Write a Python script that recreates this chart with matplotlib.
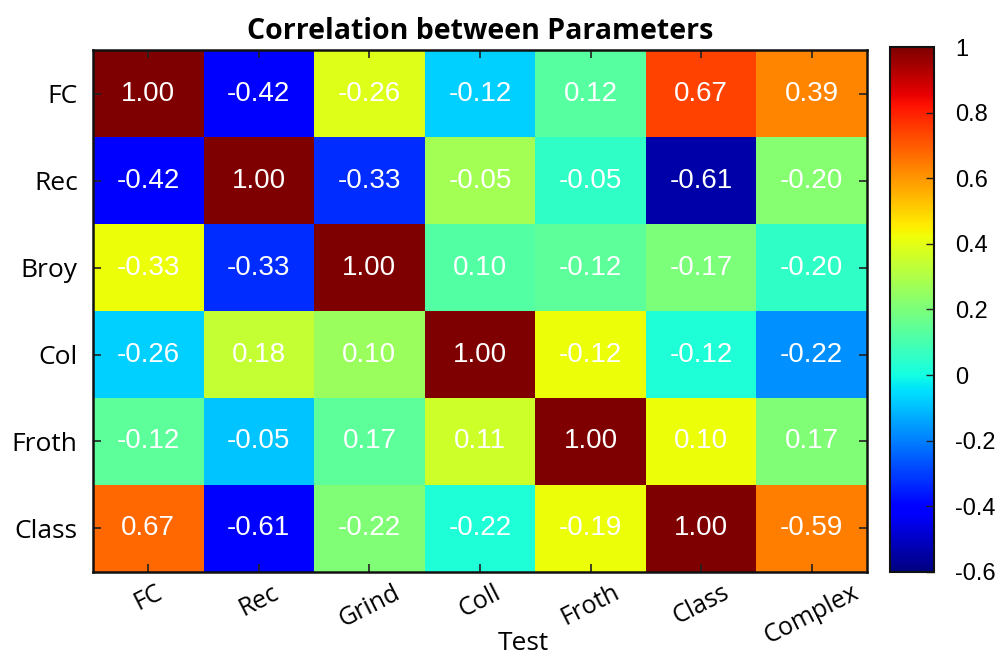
import numpy as np
import matplotlib
matplotlib.use("Agg")
import matplotlib.pyplot as plt
from matplotlib import colors

# Axis categories
row_labels = ["FC", "Rec", "Broy", "Col", "Froth", "Class"]
col_labels = ["FC", "Rec", "Grind", "Coll", "Froth", "Class", "Complex"]

# Values printed in each cell
corr_values = [
    [1.00, -0.42, -0.26, -0.12, 0.12, 0.67, 0.39],
    [-0.42, 1.00, -0.33, -0.05, -0.05, -0.61, -0.20],
    [-0.33, -0.33, 1.00, 0.10, -0.12, -0.17, -0.20],
    [-0.26, 0.18, 0.10, 1.00, -0.12, -0.12, -0.22],
    [-0.12, -0.05, 0.17, 0.11, 1.00, 0.10, 0.17],
    [0.67, -0.61, -0.22, -0.22, -0.19, 1.00, -0.59],
]

# Values used for the cell shading (colour scale)
shade_values = [
    [1.00, -0.42, 0.39, -0.07, 0.13, 0.74, 0.63],
    [-0.42, 1.00, -0.33, 0.28, 0.05, -0.54, 0.22],
    [0.42, -0.33, 1.00, 0.12, 0.14, 0.20, 0.05],
    [-0.07, 0.34, 0.26, 1.00, 0.42, 0.02, -0.17],
    [0.14, -0.09, 0.14, 0.36, 1.00, 0.42, 0.21],
    [0.68, -0.41, 0.21, 0.02, 0.42, 1.00, 0.64],
]

cbar_ticks = [-0.6, -0.4, -0.2, 0, 0.2, 0.4, 0.6, 0.8, 1]
cbar_ticklabels = ["-0.6", "-0.4", "-0.2", "0", "0.2", "0.4", "0.6", "0.8", "1"]

plt.rcParams["font.family"] = ["Liberation Sans", "DejaVu Sans"]
label_font = ["Open Sans", "DejaVu Sans"]

fig = plt.figure(figsize=(10, 6.55), dpi=100)
ax = fig.add_axes([0.093, 0.127, 0.774, 0.796])
cax = fig.add_axes([0.890, 0.127, 0.044, 0.801])

shade = np.array(shade_values)
corr = np.array(corr_values)
norm = colors.Normalize(vmin=-0.6, vmax=1.0)
im = ax.imshow(shade, cmap="jet", norm=norm, aspect="auto",
               interpolation="nearest")

for i in range(corr.shape[0]):
    for j in range(corr.shape[1]):
        ax.text(j, i, f"{corr[i, j]:.2f}", ha="center", va="center",
                color="white", fontsize=20)

ax.set_xticks(range(len(col_labels)))
ax.set_xticklabels(col_labels, rotation=27, ha="center",
                   family=label_font, fontsize=18)
ax.set_yticks(range(len(row_labels)))
ax.set_yticklabels(row_labels, family=label_font, fontsize=19)
ax.tick_params(direction="in", length=6, width=1.2, top=True, right=True,
               labeltop=False, labelright=False, color="#222222")
ax.tick_params(axis="y", pad=11)
ax.tick_params(axis="x", pad=6)
for s in ax.spines.values():
    s.set_linewidth(1.8)
    s.set_color("#111111")

fig.text(0.523, 0.018, "Test", family=label_font, fontsize=19,
         ha="center", va="center")
ax.set_title("Correlation between Parameters", fontsize=20.5,
             fontweight="bold", family=label_font, pad=8)

cb = fig.colorbar(im, cax=cax, ticks=cbar_ticks)
cb.ax.set_yticklabels(cbar_ticklabels)
cb.ax.tick_params(direction="in", length=6, width=1.0, labelsize=17, pad=15,
                  color="#222222")
cb.outline.set_linewidth(1.5)
cb.outline.set_edgecolor("#111111")

fig.savefig("out.png", dpi=100, facecolor="white")
